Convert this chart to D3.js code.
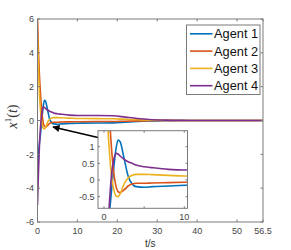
<!DOCTYPE html>
<html lang="en">
<head>
    <meta charset="utf-8">
    <script src="https://cdnjs.cloudflare.com/ajax/libs/d3/7.8.5/d3.min.js"></script>
    <style>
        body { margin: 0; background: #fff; }
        text { font-family: "Liberation Sans", Arial, sans-serif; }
    </style>
</head>
<body>
    <svg width="291" height="250"></svg>
    <script>
        // time samples (s) and the four agents' state x^1(t)
        var time   = [0, 0.25, 0.5, 0.75, 1, 1.25, 1.5, 1.75, 2, 2.5, 3, 3.5, 4, 5, 6, 8, 10, 15, 19, 22, 25, 28, 32, 36, 40, 56.5];
        var agent1 = [-3, -2, -1.3, -0.8, -0.15, 0.45, 0.95, 1.2, 1.15, 0.65, 0.12, -0.12, -0.2, -0.22, -0.2, -0.18, -0.16, -0.15, -0.14, -0.1, -0.06, -0.03, -0.01, 0, 0, 0];
        var agent2 = [6, 4, 2.6, 1.6, 0.75, 0.15, -0.2, -0.35, -0.38, -0.3, -0.18, -0.12, -0.1, -0.1, -0.09, -0.08, -0.07, -0.06, -0.06, -0.04, -0.025, -0.01, 0, 0, 0, 0];
        var agent3 = [5, 3, 1.5, 0.6, 0, -0.32, -0.48, -0.5, -0.42, -0.12, 0.06, 0.14, 0.17, 0.17, 0.16, 0.14, 0.12, 0.11, 0.1, 0.07, 0.04, 0.02, 0.01, 0, 0, 0];
        var agent4 = [-5, -3, -1.4, -0.4, 0.3, 0.65, 0.8, 0.78, 0.72, 0.62, 0.55, 0.5, 0.45, 0.4, 0.37, 0.32, 0.3, 0.3, 0.28, 0.2, 0.12, 0.06, 0.02, 0.005, 0, 0];
        var names  = ["Agent 1", "Agent 2", "Agent 3", "Agent 4"];
        var colors = ["#0072BD", "#D95319", "#EDB120", "#7E2F8E"];
        var xTicks = [0, 10, 20, 30, 40, 50, 56.5];
        var yTicks = [-6, -4, -2, 0, 2, 4, 6];
        var insetXTicks = [0, 5, 10];
        var insetXLabels = [0, 10];
        var insetYTicks = [-0.5, 0, 0.5, 1];

        var series = [agent1, agent2, agent3, agent4].map(function(vals, i) {
            return { name: names[i], color: colors[i],
                     pts: time.map(function(t, j) { return [t, vals[j]]; }) };
        });

        var svg = d3.select("svg");
        var axisColor = "#7a7a7a", labelColor = "#444";

        // main axes
        var m = { left: 37.5, right: 263, top: 19, bottom: 222 };
        var x = d3.scaleLinear().domain([0, 56.5]).range([m.left, m.right]);
        var y = d3.scaleLinear().domain([-6, 6]).range([m.bottom, m.top]);

        svg.append("clipPath").attr("id", "clipMain").append("rect")
            .attr("x", m.left).attr("y", m.top)
            .attr("width", m.right - m.left).attr("height", m.bottom - m.top);

        function drawFrame(g, xs, ys, xt, xl, yt, fmtY, tickLen) {
            var x0 = xs.range()[0], x1 = xs.range()[1], y0 = ys.range()[0], y1 = ys.range()[1];
            g.append("rect").attr("x", x0).attr("y", y1).attr("width", x1 - x0).attr("height", y0 - y1)
                .attr("fill", "none").attr("stroke", axisColor).attr("stroke-width", 1);
            xt.forEach(function(v) {
                g.append("line").attr("x1", xs(v)).attr("x2", xs(v)).attr("y1", y0).attr("y2", y0 - tickLen)
                    .attr("stroke", axisColor);
                g.append("line").attr("x1", xs(v)).attr("x2", xs(v)).attr("y1", y1).attr("y2", y1 + tickLen)
                    .attr("stroke", axisColor);
            });
            xl.forEach(function(v) {
                g.append("text").attr("x", xs(v)).attr("y", y0 + 12).attr("text-anchor", "middle")
                    .attr("font-size", "9px").attr("fill", labelColor).text(v);
            });
            yt.forEach(function(v) {
                g.append("line").attr("x1", x0).attr("x2", x0 + tickLen).attr("y1", ys(v)).attr("y2", ys(v))
                    .attr("stroke", axisColor);
                g.append("line").attr("x1", x1).attr("x2", x1 - tickLen).attr("y1", ys(v)).attr("y2", ys(v))
                    .attr("stroke", axisColor);
                g.append("text").attr("x", x0 - 3.5).attr("y", ys(v) + 3.2).attr("text-anchor", "end")
                    .attr("font-size", "9px").attr("fill", labelColor).text(fmtY(v));
            });
        }

        var main = svg.append("g");
        main.append("rect").attr("x", m.left).attr("y", m.top)
            .attr("width", m.right - m.left).attr("height", m.bottom - m.top).attr("fill", "#fff");

        var lineMain = d3.line().x(function(d) { return x(d[0]); }).y(function(d) { return y(d[1]); })
            .curve(d3.curveMonotoneX);
        main.append("g").attr("clip-path", "url(#clipMain)")
            .selectAll("path").data(series).enter().append("path")
            .attr("d", function(d) { return lineMain(d.pts); })
            .attr("fill", "none").attr("stroke", function(d) { return d.color; })
            .attr("stroke-width", 1.6);

        drawFrame(main, x, y, xTicks, xTicks, yTicks, function(v) { return v; }, 2.5);

        // axis titles
        svg.append("text").attr("x", (m.left + m.right) / 2).attr("y", 246.5)
            .attr("text-anchor", "middle").attr("font-size", "10px").attr("fill", "#333").text("t/s");
        var yl = svg.append("text")
            .attr("transform", "translate(17," + ((m.top + m.bottom) / 2 - 4) + ") rotate(-90)")
            .attr("text-anchor", "middle").attr("font-size", "14px").attr("fill", "#333")
            .style("font-family", "'Liberation Serif', 'DejaVu Serif', serif");
        yl.append("tspan").attr("font-style", "italic").text("x");
        yl.append("tspan").attr("font-size", "9px").attr("dy", -6).text("1");
        yl.append("tspan").attr("dy", 6).text("(");
        yl.append("tspan").attr("font-style", "italic").text("t");
        yl.append("tspan").text(")");

        // legend
        var lg = svg.append("g");
        lg.append("rect").attr("x", 186.5).attr("y", 25).attr("width", 73.5).attr("height", 69.5)
            .attr("fill", "#fff").attr("stroke", axisColor);
        series.forEach(function(s, i) {
            var ly = 33.8 + i * 17.3;
            lg.append("line").attr("x1", 190).attr("x2", 212.5).attr("y1", ly).attr("y2", ly)
                .attr("stroke", s.color).attr("stroke-width", 1.6);
            lg.append("text").attr("x", 214).attr("y", ly + 4.5).attr("font-size", "12.8px")
                .attr("fill", "#111").text(s.name);
        });

        // arrow pointing to the zoomed region
        svg.append("defs").append("marker").attr("id", "head")
            .attr("viewBox", "0 0 10 10").attr("refX", 9).attr("refY", 5)
            .attr("markerWidth", 4.5).attr("markerHeight", 4.5).attr("orient", "auto")
            .append("path").attr("d", "M0,0L10,5L0,10z").attr("fill", "#000");
        svg.append("line").attr("x1", 98).attr("y1", 137.5).attr("x2", 53).attr("y2", 127)
            .attr("stroke", "#000").attr("stroke-width", 1.6).attr("marker-end", "url(#head)");

        // inset
        var ins = { left: 98, right: 187.5, top: 130.7, bottom: 208.3 };
        var xi = d3.scaleLinear().domain([-0.75, 10.4]).range([ins.left, ins.right]);
        var yi = d3.scaleLinear().domain([-0.85, 1.48]).range([ins.bottom, ins.top]);

        svg.append("clipPath").attr("id", "clipInset").append("rect")
            .attr("x", ins.left).attr("y", ins.top)
            .attr("width", ins.right - ins.left).attr("height", ins.bottom - ins.top);

        var inset = svg.append("g");
        inset.append("rect").attr("x", ins.left).attr("y", ins.top)
            .attr("width", ins.right - ins.left).attr("height", ins.bottom - ins.top).attr("fill", "#fff");
        var lineInset = d3.line().x(function(d) { return xi(d[0]); }).y(function(d) { return yi(d[1]); })
            .curve(d3.curveMonotoneX);
        inset.append("g").attr("clip-path", "url(#clipInset)")
            .selectAll("path").data(series).enter().append("path")
            .attr("d", function(d) { return lineInset(d.pts.filter(function(p) { return p[0] <= 15; })); })
            .attr("fill", "none").attr("stroke", function(d) { return d.color; })
            .attr("stroke-width", 1.6);

        drawFrame(inset, xi, yi, insetXTicks, insetXLabels, insetYTicks, function(v) { return v; }, 2);
    </script>
</body>
</html>
